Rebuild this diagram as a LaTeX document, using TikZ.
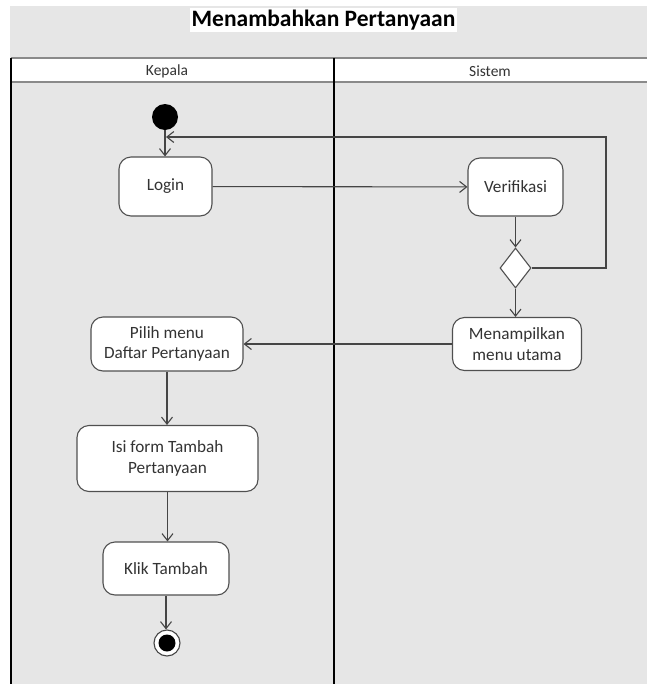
\documentclass[tikz,border=0pt]{standalone}
\usepackage{fontspec}
\setmainfont{Carlito}
\usetikzlibrary{arrows.meta,shapes.geometric}
\definecolor{bggray}{HTML}{E6E6E6}
\definecolor{linegray}{HTML}{454545}
\definecolor{edgegray}{HTML}{505050}
\definecolor{bandline}{HTML}{8A8A8A}
\definecolor{txt}{HTML}{333333}
\begin{document}
\begin{tikzpicture}[x=1pt,y=-1pt,
  act/.style={draw=edgegray,fill=white,rounded corners=12pt,line width=1.1pt,
    align=center,font=\fontsize{17.2}{20.5}\selectfont,text=txt,inner sep=0pt},
  flow/.style={draw=linegray,line width=1.1pt,-{Straight Barb[length=7pt,width=11pt]}},
  lanehead/.style={font=\fontsize{15.5}{18}\selectfont,text=txt}]
\useasboundingbox (0,0) rectangle (647,686);
\fill[white] (0,0) rectangle (647,686);
\fill[bggray] (10,6) rectangle (647,684);

% swimlane header band
\fill[white] (11,58) rectangle (647,82);
\draw[bandline,line width=1.6pt] (11,58) -- (647,58);
\draw[bandline,line width=1.6pt] (11,82) -- (647,82);
\draw[black,line width=1.6pt] (11,58) -- (11,684);
\draw[black,line width=1.8pt] (334,58) -- (334,684);

\node[font=\bfseries\fontsize{23.5}{26}\selectfont,fill=white,inner sep=1.5pt] (title) at (323.5,20) {Menambahkan Pertanyaan};
\node[lanehead] (kepala) at (167,71) {Kepala};
\node[lanehead] (sistem) at (490,71) {Sistem};

% activity nodes
\node[circle,fill=black,minimum size=26pt,inner sep=0pt] (start) at (165,117) {};
\node[act,minimum width=93pt,minimum height=59pt] (login) at (165.5,186.5) {Login};
\node[act,minimum width=95pt,minimum height=58pt] (verif) at (515.5,187) {Verifikasi};
\node[diamond,draw=edgegray,fill=white,line width=1.1pt,inner sep=0pt,minimum width=31pt,minimum height=40pt] (dec) at (515.5,268) {};
\node[act,minimum width=129pt,minimum height=53pt] (menu) at (517,344) {Menampilkan\\menu utama};
\node[act,minimum width=152pt,minimum height=54pt] (pilih) at (167,344) {Pilih menu\\Daftar Pertanyaan};
\node[act,minimum width=181pt,minimum height=66pt] (isi) at (167.5,458.5) {Isi form Tambah\\Pertanyaan};
\node[act,minimum width=126pt,minimum height=53pt] (klik) at (166,568.5) {Klik Tambah};
\node[circle,draw=linegray,fill=white,line width=1.1pt,minimum size=26pt,inner sep=0pt] (end) at (167,643) {};
\fill[black] (end.center) circle (8.5pt);

% loop back route
\coordinate (loopturn) at (606,137);
\coordinate (loopend) at (166,137);

% connectors
\draw[flow] (start) -- (start |- login.north);
\draw[flow] (login) -- (verif);
\draw[flow] (verif) -- (dec);
\draw[flow] (dec.east) -| (loopturn) -- (loopend);
\draw[flow] (dec.south) -- (dec.south |- menu.north);
\draw[flow] (menu) -- (pilih);
\draw[flow] (pilih) -- (pilih |- isi.north);
\draw[flow] (isi) -- (isi |- klik.north);
\draw[flow] (klik) -- (klik |- end.north);
\end{tikzpicture}
\end{document}
